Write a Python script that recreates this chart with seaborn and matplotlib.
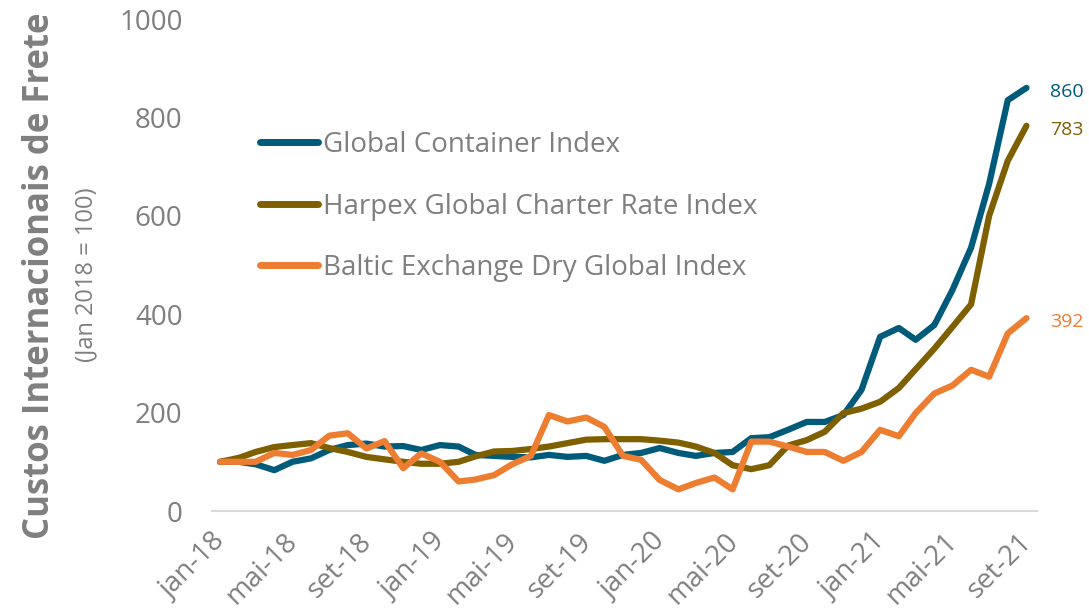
import matplotlib
matplotlib.use('Agg')
import matplotlib.pyplot as plt
import pandas as pd
import seaborn as sns

# Monthly index values (Jan 2018 = 100), Jan 2018 .. Sep 2021
months = pd.date_range('2018-01-01', '2021-09-01', freq='MS') + pd.Timedelta(days=14)

gci = [100, 100, 95, 83, 100, 107, 124, 134, 137, 131, 132, 124, 134, 131, 114,
       112, 110, 109, 114, 110, 112, 102, 114, 118, 128, 118, 112, 118, 120, 148,
       150, 165, 181, 181, 195, 246, 354, 372, 348, 378, 449, 535, 665, 835, 860]
harpex = [100, 108, 120, 130, 134, 138, 128, 120, 110, 105, 100, 96, 96, 100, 111,
          121, 122, 126, 131, 138, 145, 146, 146, 146, 143, 139, 131, 118, 93, 85,
          93, 133, 144, 161, 199, 208, 222, 250, 288, 330, 374, 420, 600, 712, 783]
baltic = [100, 100, 100, 118, 114, 124, 153, 158, 127, 142, 87, 117, 100, 60, 64,
          73, 95, 112, 195, 182, 190, 171, 112, 104, 63, 44, 57, 68, 44, 141,
          141, 131, 120, 120, 102, 120, 165, 152, 199, 239, 255, 287, 273, 361, 392]

series_names = ['Global Container Index', 'Harpex Global Charter Rate Index',
                'Baltic Exchange Dry Global Index']
colors = ['#005A7A', '#7F6000', '#ED7D31']

tick_dates = pd.date_range('2018-01-01', '2021-09-01', freq='4MS')
tick_labels = ['jan-18', 'mai-18', 'set-18', 'jan-19', 'mai-19', 'set-19',
               'jan-20', 'mai-20', 'set-20', 'jan-21', 'mai-21', 'set-21']

df = pd.DataFrame({
    'date': list(months) * 3,
    'value': gci + harpex + baltic,
    'serie': [n for n in series_names for _ in months],
})

sns.set_theme(style='white')
plt.rcParams['font.family'] = ['Open Sans', 'DejaVu Sans']
gray = '#7F7F7F'

fig = plt.figure(figsize=(10.89, 6.14), dpi=100)
ax = fig.add_axes([211.7 / 1089, 1 - 511 / 614, 825 / 1089, 492 / 614])

sns.lineplot(data=df, x='date', y='value', hue='serie', hue_order=series_names,
             palette=colors, linewidth=4.5, solid_capstyle='round', ax=ax)

ax.set_ylim(0, 1000)
ax.set_xlim(pd.Timestamp('2018-01-01'), pd.Timestamp('2021-10-02'))
ax.set_yticks([0, 200, 400, 600, 800, 1000])
ax.tick_params(axis='y', length=0, pad=21, labelsize=20, labelcolor=gray)
ax.set_xticks(tick_dates)
ax.set_xticklabels(tick_labels, rotation=45, ha='right', rotation_mode='anchor')
ax.tick_params(axis='x', length=6, width=1.2, color='#D9D9D9', direction='out',
               pad=6, labelsize=20, labelcolor=gray)
ax.set_xlabel('')
ax.set_ylabel('')
for side in ['top', 'right', 'left']:
    ax.spines[side].set_visible(False)
ax.spines['bottom'].set_color('#D9D9D9')
ax.spines['bottom'].set_linewidth(1.5)

handles, labels = ax.get_legend_handles_labels()
leg = ax.legend(handles, labels, loc='upper left', bbox_to_anchor=(0.058, 0.772),
                frameon=False, fontsize=20, labelcolor=gray, handlelength=2.1,
                handletextpad=0.2, labelspacing=1.2, borderpad=0, borderaxespad=0)
for h in leg.get_lines():
    h.set_linewidth(5)

# end-of-series value labels
for vals, col in zip([gci, harpex, baltic], colors):
    ax.annotate(str(vals[-1]), xy=(months[-1], vals[-1]), xytext=(17, -3),
                textcoords='offset points', ha='left', va='center',
                fontsize=14, color=col)

fig.text(40 / 1089, 1 - 276 / 614, 'Custos Internacionais de Frete', rotation=90,
         ha='center', va='center', fontsize=25, fontweight='bold', color=gray)
fig.text(86 / 1089, 1 - 275 / 614, '(Jan 2018 = 100)', rotation=90,
         ha='center', va='center', fontsize=17, color=gray)

fig.savefig('out.png', dpi=100)
